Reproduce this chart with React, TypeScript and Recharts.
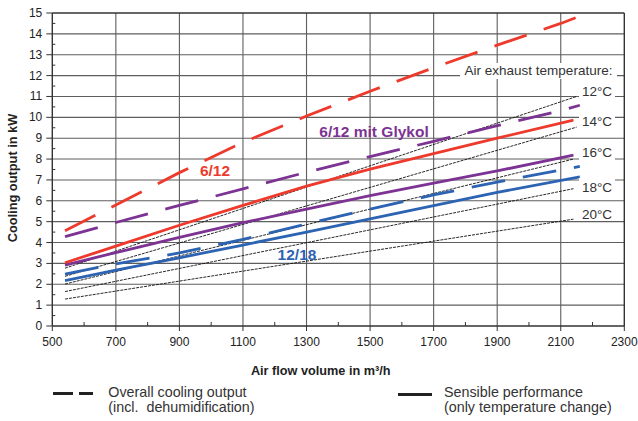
import { LineChart, Line, XAxis, YAxis, CartesianGrid, ReferenceLine } from "recharts";

// air flow (m³/h) and cooling output (kW)
const flowTotal = [540, 700, 900, 1100, 1300, 1500, 1700, 1900, 2100, 2160];
const total612 = [4.57, 5.8, 7.35, 8.8, 10.06, 11.25, 12.38, 13.46, 14.5, 14.85];
const total612Glykol = [4.28, 4.96, 5.78, 6.57, 7.37, 8.12, 8.85, 9.6, 10.32, 10.58];
const total1218 = [2.49, 2.97, 3.5, 4.15, 4.89, 5.6, 6.28, 6.9, 7.47, 7.65];

const flowSensible = [540, 700, 900, 1100, 1300, 1500, 1700, 1900, 2140];
const sensible612 = [3.03, 3.83, 4.83, 5.78, 6.7, 7.52, 8.26, 9.0, 9.87];
const sensible612Glykol = [2.92, 3.52, 4.25, 4.95, 5.6, 6.25, 6.85, 7.43, 8.19];
const flowSensible1218 = [540, 700, 900, 1100, 1300, 1500, 1700, 1900, 2160];
const sensible1218 = [2.18, 2.68, 3.27, 3.88, 4.5, 5.13, 5.77, 6.4, 7.15];

// air exhaust temperature lines
const tempLabels = ["12°C", "14°C", "16°C", "18°C", "20°C"];
const tempFlowStart = [540, 540, 540, 540, 540];
const tempFlowEnd = [2150, 2150, 2140, 2140, 2140];
const tempKwStart = [2.77, 2.38, 2.01, 1.65, 1.29];
const tempKwEnd = [11.0, 9.53, 8.0, 6.58, 5.12];

const xTicks = [500, 600, 700, 800, 900, 1000, 1100, 1200, 1300, 1400, 1500, 1600, 1700, 1800, 1900, 2000, 2100, 2200, 2300];
const xGrid = [700, 900, 1100, 1300, 1500, 1700, 1900, 2100];
const yTicks = [0, 0.5, 1, 1.5, 2, 2.5, 3, 3.5, 4, 4.5, 5, 5.5, 6, 6.5, 7, 7.5, 8, 8.5, 9, 9.5, 10, 10.5, 11, 11.5, 12, 12.5, 13, 13.5, 14, 14.5, 15];
const yGrid = [1, 2, 3, 4, 5, 6, 7, 8, 9, 10, 11, 12, 13, 14];

const RED = "#ee3a2c";
const PURPLE = "#7d3393";
const BLUE = "#2c63b3";
const AXIS = "#333";
const FONT = "'Liberation Sans', Arial, sans-serif";
const DASH = "34 18";

// body margin replaced by the wrapper padding / chart margin so the page is exactly 638x421
if (typeof document !== "undefined") {
  document.body.style.margin = "0";
}

const pts = (flows: number[], kws: number[]) => flows.map((f, i) => ({ flow: f, kw: kws[i] }));

function XTick({ x, y, payload }: any) {
  const v = payload.value;
  if (v % 200 === 0) return <line x1={x} y1={y} x2={x} y2={y - 4} stroke={AXIS} />;
  return (
    <g>
      <line x1={x} y1={y} x2={x} y2={y + 5} stroke={AXIS} />
      <text x={x} y={y + 20} textAnchor="middle" fontSize={12} fill="#222" fontFamily={FONT}>{v}</text>
    </g>
  );
}

function YTick({ x, y, payload }: any) {
  const v = payload.value;
  if (v % 1 !== 0) return <line x1={x} y1={y} x2={x + 3} y2={y} stroke={AXIS} />;
  return (
    <g>
      <line x1={x - 6} y1={y} x2={x} y2={y} stroke={AXIS} />
      <text x={x - 10} y={y + 4} textAnchor="end" fontSize={12} fill="#222" fontFamily={FONT}>{v}</text>
    </g>
  );
}

const tempBoxes = [
  { top: 84, h: 16, bg: "#fff" },
  { top: 114, h: 16, bg: "#fff" },
  { top: 145, h: 16, bg: "#fff" },
  { top: 178, h: 19, bg: "#fff" },
  { top: 207, h: 16, bg: "transparent" },
];

export default function App() {
  const seriesLabel = (text: string, color: string, cx: number, cy: number) => (
    <div style={{ position: "absolute", left: cx, top: cy, transform: "translate(-50%,-50%)", color, fontWeight: 700, fontSize: 15.5, lineHeight: 1, whiteSpace: "nowrap" }}>
      {text}
    </div>
  );

  return (
    <div style={{ padding: "0 0 0 8px", width: 630, height: 421 }}>
      <div style={{ position: "relative", width: 630, height: 421, fontFamily: FONT, color: "#222" }}>
        <LineChart width={630} height={421} margin={{ top: 13, right: 13.7, left: 4.3, bottom: 75 }}>
          <CartesianGrid horizontalValues={yGrid} verticalValues={xGrid} stroke="#5e5e5e" strokeWidth={1.1} />
          <XAxis dataKey="flow" type="number" domain={[500, 2300]} ticks={xTicks} interval={0} allowDataOverflow
            height={20} tickSize={0} tickMargin={0} tickLine={false} tick={<XTick />} axisLine={{ stroke: AXIS, strokeWidth: 1.4 }} />
          <YAxis type="number" domain={[0, 15]} ticks={yTicks} interval={0} allowDataOverflow
            width={40} tickSize={0} tickMargin={0} tickLine={false} tick={<YTick />} axisLine={{ stroke: AXIS, strokeWidth: 1.4 }} />
          <ReferenceLine y={15} stroke={AXIS} strokeWidth={1.4} />
          <ReferenceLine x={2300} stroke={AXIS} strokeWidth={1.4} />
          {tempLabels.map((t, i) => (
            <Line key={t} data={[{ flow: tempFlowStart[i], kw: tempKwStart[i] }, { flow: tempFlowEnd[i], kw: tempKwEnd[i] }]}
              dataKey="kw" type="linear" stroke="#111" strokeWidth={0.9} strokeDasharray="3 1" dot={false} activeDot={false} isAnimationActive={false} />
          ))}
          <Line data={pts(flowSensible1218, sensible1218)} dataKey="kw" type="linear" stroke={BLUE} strokeWidth={2.8} dot={false} activeDot={false} isAnimationActive={false} />
          <Line data={pts(flowSensible, sensible612Glykol)} dataKey="kw" type="linear" stroke={PURPLE} strokeWidth={2.8} dot={false} activeDot={false} isAnimationActive={false} />
          <Line data={pts(flowSensible, sensible612)} dataKey="kw" type="linear" stroke={RED} strokeWidth={2.8} dot={false} activeDot={false} isAnimationActive={false} />
          <Line data={pts(flowTotal, total1218)} dataKey="kw" type="linear" stroke={BLUE} strokeWidth={2.8} strokeDasharray={DASH} dot={false} activeDot={false} isAnimationActive={false} />
          <Line data={pts(flowTotal, total612Glykol)} dataKey="kw" type="linear" stroke={PURPLE} strokeWidth={2.8} strokeDasharray={DASH} dot={false} activeDot={false} isAnimationActive={false} />
          <Line data={pts(flowTotal, total612)} dataKey="kw" type="linear" stroke={RED} strokeWidth={2.8} strokeDasharray={DASH} dot={false} activeDot={false} isAnimationActive={false} />
        </LineChart>

        {/* axis titles */}
        <div style={{ position: "absolute", left: 5.3, top: 178, transform: "translate(-50%,-50%) rotate(-90deg)", fontWeight: 700, fontSize: 12.8, whiteSpace: "nowrap", lineHeight: 1 }}>
          Cooling output in kW
        </div>
        <div style={{ position: "absolute", left: 312.7, top: 371, transform: "translate(-50%,-50%)", fontWeight: 700, fontSize: 12.7, whiteSpace: "nowrap", lineHeight: 1 }}>
          Air flow volume in m³/h
        </div>

        {/* series labels */}
        {seriesLabel("6/12", RED, 207, 171)}
        {seriesLabel("6/12 mit Glykol", PURPLE, 366, 132)}
        {seriesLabel("12/18", BLUE, 289, 254.5)}

        {/* temperature annotations */}
        <div style={{ position: "absolute", left: 452, top: 63, width: 157, height: 16, lineHeight: "16px", background: "#fff", fontSize: 13.5, textAlign: "center", whiteSpace: "nowrap", color: "#333" }}>
          Air exhaust temperature:
        </div>
        {tempLabels.map((t, i) => (
          <div key={t} style={{ position: "absolute", left: 571, top: tempBoxes[i].top, width: 36, height: tempBoxes[i].h, lineHeight: `${tempBoxes[i].h}px`, background: tempBoxes[i].bg, fontSize: 13.5, textAlign: "center", color: "#333" }}>
            {t}
          </div>
        ))}

        {/* legend */}
        <div style={{ position: "absolute", left: 45.3, top: 391.8, width: 20, height: 3, background: "#222" }} />
        <div style={{ position: "absolute", left: 71.3, top: 391.8, width: 14, height: 3, background: "#222" }} />
        <div style={{ position: "absolute", left: 100.3, top: 385.4, fontSize: 14.3, lineHeight: "14.6px", whiteSpace: "pre", color: "#333" }}>
          {"Overall cooling output\n(incl.  dehumidification)"}
        </div>
        <div style={{ position: "absolute", left: 390.3, top: 392.8, width: 33.4, height: 3, background: "#222" }} />
        <div style={{ position: "absolute", left: 436, top: 385.4, fontSize: 14.3, lineHeight: "14.6px", whiteSpace: "pre", color: "#333" }}>
          {"Sensible performance\n(only temperature change)"}
        </div>
      </div>
    </div>
  );
}
